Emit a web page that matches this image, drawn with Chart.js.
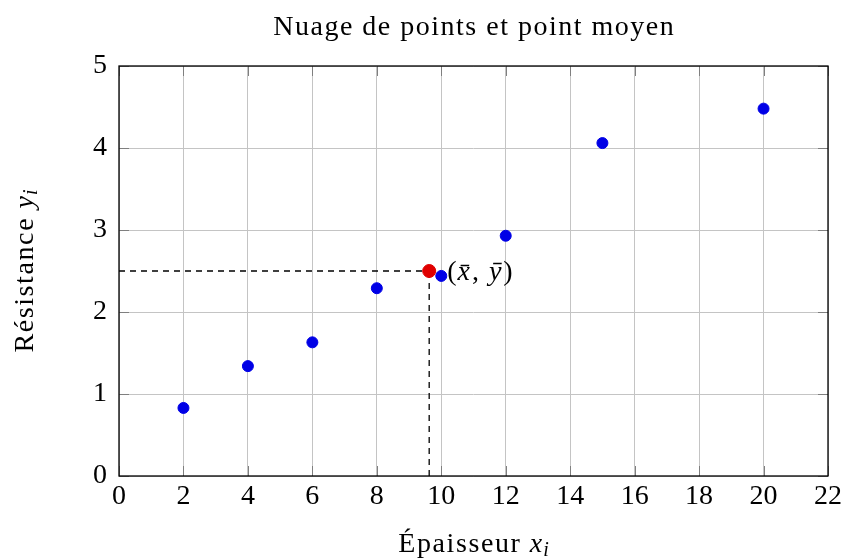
<!DOCTYPE html>
<html>
<head>
<meta charset="utf-8">
<script src="https://cdn.jsdelivr.net/npm/chart.js@4"></script>
<style>
  html, body { margin: 0; padding: 0; background: #fff; }
  #wrap { width: 846px; height: 558px; }
</style>
</head>
<body>
<div id="wrap"><canvas id="chart" width="846" height="558"></canvas></div>
<script>
const epaisseur = [2, 4, 6, 8, 10, 12, 15, 20];
const resistance = [0.83, 1.34, 1.63, 2.29, 2.44, 2.93, 4.06, 4.48];
const xTicks = [0, 2, 4, 6, 8, 10, 12, 14, 16, 18, 20, 22];
const yTicks = [0, 1, 2, 3, 4, 5];

// mean point
const meanX = epaisseur.reduce((a, b) => a + b, 0) / epaisseur.length;
const meanY = resistance.reduce((a, b) => a + b, 0) / resistance.length;

const serif = "'Liberation Serif', 'DejaVu Serif', serif";

const points = epaisseur.map((x, i) => ({ x: x, y: resistance[i] }));

// text with a bit of letter spacing, drawn char by char
function spacedWidth(ctx, str, sp) {
    let w = 0;
    for (const ch of str) w += ctx.measureText(ch).width + sp;
    return w - sp;
}
function spacedText(ctx, str, x, y, sp) {
    for (const ch of str) {
        ctx.fillText(ch, x, y);
        x += ctx.measureText(ch).width + sp;
    }
    return x;
}

function drawTitle(ctx, word, v, cx, cy) {
    const sp = 1.6;
    ctx.font = "28px " + serif;
    const w1 = spacedWidth(ctx, word, sp) + ctx.measureText(" ").width + 3;
    ctx.font = "italic 28px " + serif;
    const w2 = ctx.measureText(v).width + 1;
    ctx.font = "italic 20px " + serif;
    const w3 = ctx.measureText("i").width;
    let x = cx - (w1 + w2 + w3) / 2;
    ctx.textAlign = "left";
    ctx.font = "28px " + serif;
    spacedText(ctx, word, x, cy, sp);
    x += w1;
    ctx.font = "italic 28px " + serif;
    ctx.fillText(v, x, cy);
    x += w2;
    ctx.font = "italic 20px " + serif;
    ctx.fillText("i", x, cy + 6);
}

// draws title, frame, inward ticks, axis labels and the mean label
const decorations = {
    id: "decorations",
    afterDatasetsDraw(chart) {
        const ctx = chart.ctx;
        const a = chart.chartArea;
        const xs = chart.scales.x, ys = chart.scales.y;
        ctx.save();

        ctx.strokeStyle = "#7f7f7f";
        ctx.lineWidth = 1;
        const len = 10;
        ctx.beginPath();
        xTicks.forEach(t => {
            const px = Math.round(xs.getPixelForValue(t)) + 0.5;
            ctx.moveTo(px, a.bottom); ctx.lineTo(px, a.bottom - len);
            ctx.moveTo(px, a.top); ctx.lineTo(px, a.top + len);
        });
        yTicks.forEach(t => {
            const py = Math.round(ys.getPixelForValue(t)) + 0.5;
            ctx.moveTo(a.left, py); ctx.lineTo(a.left + len, py);
            ctx.moveTo(a.right, py); ctx.lineTo(a.right - len, py);
        });
        ctx.stroke();

        ctx.strokeStyle = "#000";
        ctx.lineWidth = 1.3;
        ctx.strokeRect(a.left, a.top, a.right - a.left, a.bottom - a.top);

        ctx.fillStyle = "#000";
        ctx.textBaseline = "middle";
        ctx.textAlign = "left";
        const cx = (a.left + a.right) / 2;

        // chart title
        ctx.font = "28px " + serif;
        const title = "Nuage de points et point moyen";
        const tw = spacedWidth(ctx, title, 1.5);
        spacedText(ctx, title, cx - tw / 2, 28, 1.5);

        // mean label
        let lx = xs.getPixelForValue(meanX) + 18;
        let ly = ys.getPixelForValue(meanY) + 2;
        ctx.font = "28px " + serif;
        ctx.fillText("(", lx, ly);
        lx += ctx.measureText("(").width + 1;
        ctx.font = "italic 28px " + serif;
        ctx.fillText("x\u0304", lx, ly);
        lx += ctx.measureText("x").width + 2;
        ctx.font = "28px " + serif;
        ctx.fillText(",", lx, ly);
        lx += ctx.measureText(", ").width + 3;
        ctx.font = "italic 28px " + serif;
        ctx.fillText("y\u0304", lx, ly);
        lx += ctx.measureText("y").width + 2;
        ctx.font = "28px " + serif;
        ctx.fillText(")", lx, ly);

        // x axis title
        drawTitle(ctx, "\u00C9paisseur", "x", cx, 545);

        // y axis title
        ctx.translate(26, (a.top + a.bottom) / 2);
        ctx.rotate(-Math.PI / 2);
        drawTitle(ctx, "R\u00E9sistance", "y", 0, 0);
        ctx.restore();
    }
};

new Chart(document.getElementById("chart"), {
    type: "scatter",
    data: {
        datasets: [
            {
                label: "Point moyen",
                data: [{ x: meanX, y: meanY }],
                backgroundColor: "#e00000",
                borderColor: "#e00000",
                pointRadius: 6.5,
                pointHoverRadius: 6.5
            },
            {
                label: "Mesures",
                data: points,
                backgroundColor: "#0000e6",
                borderColor: "#0000e6",
                pointRadius: 5.5,
                pointHoverRadius: 5.5
            },
            {
                label: "h",
                data: [{ x: 0, y: meanY }, { x: meanX, y: meanY }],
                showLine: true,
                borderColor: "#000",
                borderWidth: 1.3,
                borderDash: [6, 5],
                pointRadius: 0
            },
            {
                label: "v",
                data: [{ x: meanX, y: 0 }, { x: meanX, y: meanY }],
                showLine: true,
                borderColor: "#000",
                borderWidth: 1.3,
                borderDash: [6, 5],
                pointRadius: 0
            }
        ]
    },
    options: {
        responsive: false,
        animation: false,
        layout: { padding: { left: 0, right: 15, top: 66, bottom: 0 } },
        plugins: {
            legend: { display: false },
            tooltip: { enabled: false },
            title: { display: false }
        },
        scales: {
            x: {
                type: "linear",
                min: 0,
                max: 22,
                ticks: {
                    stepSize: 2,
                    color: "#000",
                    font: { family: serif, size: 28 },
                    padding: 4
                },
                grid: { color: "#c4c4c4", drawTicks: false },
                border: { display: false },
                afterFit(scale) { scale.height = 82; }
            },
            y: {
                type: "linear",
                min: 0,
                max: 5,
                ticks: {
                    stepSize: 1,
                    color: "#000",
                    font: { family: serif, size: 28 },
                    padding: 12
                },
                grid: { color: "#c4c4c4", drawTicks: false },
                border: { display: false },
                afterFit(scale) { scale.width = 119; }
            }
        }
    },
    plugins: [decorations, {
        id: "rightEdge",
        // keep the plot's right edge where the reference has it
        afterLayout(chart) {
            const extra = 831 - chart.chartArea.right;
            if (Math.abs(extra) > 0.5 && !chart._edgeFixed) {
                chart._edgeFixed = true;
                chart.options.layout.padding.right -= extra;
                chart.update();
            }
        }
    }]
});
</script>
</body>
</html>
